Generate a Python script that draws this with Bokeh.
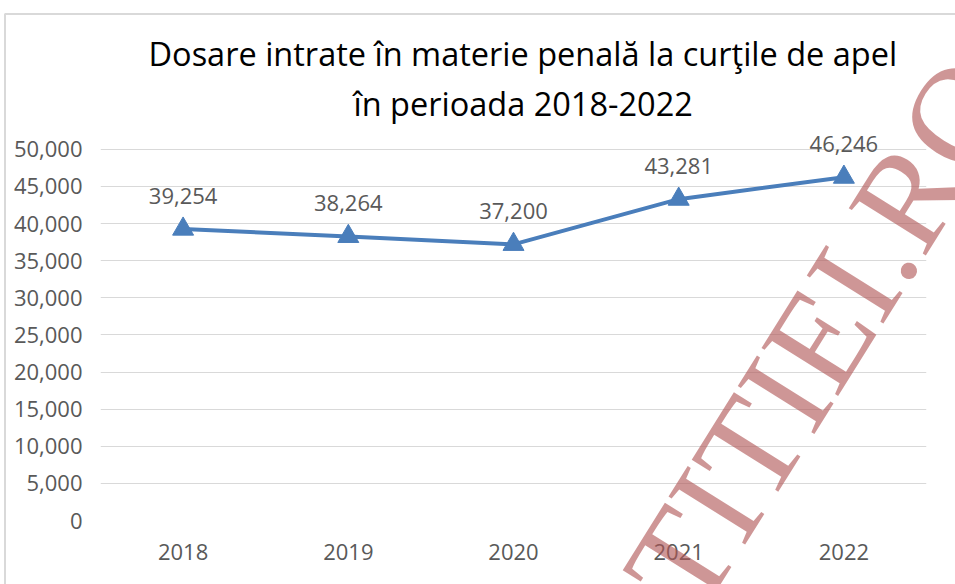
from bokeh.plotting import figure
from bokeh.models import ColumnDataSource, NumeralTickFormatter, FixedTicker, Title, Range1d, FactorRange
from bokeh.core.properties import value
from bokeh.embed import file_html
from bokeh.resources import INLINE
import math

years = ["2018", "2019", "2020", "2021", "2022"]
cases = [39254, 38264, 37200, 43281, 46246]
labels = ["39,254", "38,264", "37,200", "43,281", "46,246"]
y_ticks = [0, 5000, 10000, 15000, 20000, 25000, 30000, 35000, 40000, 45000, 50000]
title_line1 = "Dosare intrate în materie penală la curţile de apel"
title_line2 = "în perioada 2018-2022"
watermark = "TITIEI.RO"

src = ColumnDataSource(dict(year=years, cases=cases, label=labels))

FONT = "Open Sans"
GRAY = "#595959"
W, H = 955, 584

p = figure(width=W, height=H, x_range=FactorRange(*years), y_range=Range1d(0, 52800),
           output_backend="svg", toolbar_location=None,
           min_border_left=100, min_border_right=29, min_border_bottom=64, min_border_top=128)
p.title = None

t2 = Title(text=title_line2, align="left", offset=253, text_font=FONT, text_font_size="32.5px",
           text_font_style="normal", text_color="#000000", standoff=6, text_line_height=0.9)
t1 = Title(text=title_line1, align="left", offset=48, text_font=FONT, text_font_size="32.5px",
           text_font_style="normal", text_color="#000000", standoff=0, text_line_height=0.9,
           vertical_align="bottom")
p.add_layout(t2, "above")
p.add_layout(t1, "above")

p.outline_line_color = None
p.xgrid.grid_line_color = None
p.ygrid.grid_line_color = "#d9d9d9"
p.ygrid.grid_line_width = 1
p.yaxis.ticker = FixedTicker(ticks=y_ticks)
p.yaxis.formatter = NumeralTickFormatter(format="0,0")
for ax in (p.xaxis[0], p.yaxis[0]):
    ax.axis_line_color = None
    ax.major_tick_line_color = None
    ax.minor_tick_line_color = None
    ax.major_label_text_font = FONT
    ax.major_label_text_font_size = "22px"
    ax.major_label_text_color = GRAY
p.yaxis.major_label_standoff = 12
p.xaxis.major_label_standoff = 17

p.line("year", "cases", source=src, line_color="#4A7EBB", line_width=4)
p.scatter("year", "cases", source=src, marker="triangle", size=21,
          fill_color="#4A7EBB", line_color="#4A7EBB")
p.text("year", "cases", text="label", source=src, text_align="center", text_baseline="middle",
       y_offset=-33, text_font=value(FONT), text_font_size="22px", text_color=GRAY)

# transparent overlay (separate root) carrying the chart-box border and the watermark
ov = figure(width=W, height=H, x_range=Range1d(0, W), y_range=Range1d(H, 0),
            x_axis_type=None, y_axis_type=None, min_border=0,
            output_backend="svg", toolbar_location=None,
            background_fill_alpha=0, border_fill_alpha=0, outline_line_color=None,
            styles={"position": "absolute", "left": "0px", "top": "0px", "pointer-events": "none"})
ov.grid.visible = False
ov.line([4.5, 4.5, W], [H, 13.5, 13.5], line_color="#d9d9d9", line_width=2)
ov.text(x=[658], y=[595], text=[watermark], angle=math.radians(58),
        text_font=value("Liberation Serif"), text_font_size="138px", text_color="#b05555",
        text_alpha=0.62, text_align="left", text_baseline="middle")

open("out.html", "w").write(file_html([p, ov], INLINE))
